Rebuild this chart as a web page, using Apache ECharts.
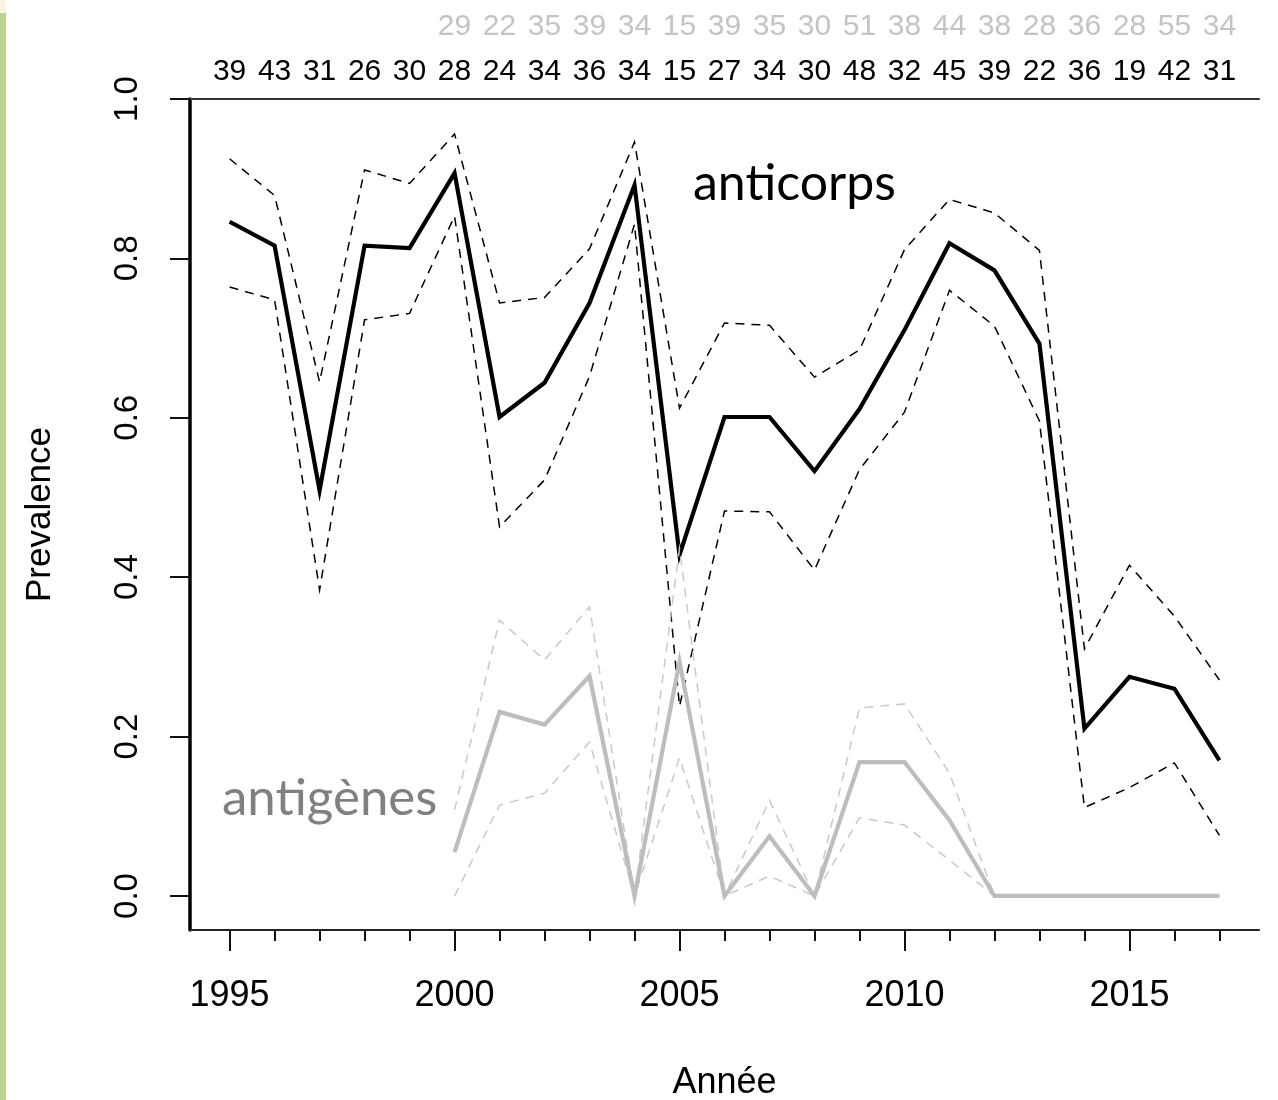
<!DOCTYPE html>
<html>
<head>
<meta charset="utf-8">
<script src="https://cdn.jsdelivr.net/npm/echarts@6/dist/echarts.min.js"></script>
<style>
  html, body { margin: 0; padding: 0; background: #fff; }
  #chart { width: 1278px; height: 1100px; }
</style>
</head>
<body>
<div id="chart"></div>
<script>
// années
const years = [1995, 1996, 1997, 1998, 1999, 2000, 2001, 2002, 2003, 2004, 2005, 2006,
  2007, 2008, 2009, 2010, 2011, 2012, 2013, 2014, 2015, 2016, 2017];
const majorYears = [1995, 2000, 2005, 2010, 2015];
const yTicks = [0, 0.2, 0.4, 0.6, 0.8, 1.0];

// effectifs (ligne noire = anticorps, ligne grise = antigènes)
const nAb = [39, 43, 31, 26, 30, 28, 24, 34, 36, 34, 15, 27, 34, 30, 48, 32, 45, 39, 22, 36, 19, 42, 31];
const agYears = [2000, 2001, 2002, 2003, 2004, 2005, 2006, 2007, 2008, 2009, 2010, 2011,
  2012, 2013, 2014, 2015, 2016, 2017];
const nAg = [29, 22, 35, 39, 34, 15, 39, 35, 30, 51, 38, 44, 38, 28, 36, 28, 55, 34];

// prévalence anticorps + IC
const abMean = [0.846, 0.816, 0.509, 0.816, 0.813, 0.907, 0.601, 0.644, 0.744, 0.892, 0.428, 0.601,
  0.601, 0.533, 0.611, 0.710, 0.819, 0.785, 0.693, 0.210, 0.275, 0.260, 0.170];
const abHigh = [0.925, 0.879, 0.645, 0.911, 0.894, 0.956, 0.744, 0.751, 0.812, 0.946, 0.612, 0.719,
  0.716, 0.651, 0.685, 0.811, 0.874, 0.857, 0.810, 0.310, 0.415, 0.351, 0.271];
const abLow = [0.764, 0.748, 0.384, 0.723, 0.731, 0.853, 0.463, 0.522, 0.652, 0.843, 0.238, 0.483,
  0.482, 0.409, 0.535, 0.607, 0.760, 0.715, 0.596, 0.111, 0.136, 0.167, 0.076];

// prévalence antigènes + IC (à partir de 2000)
const agMean = [0.055, 0.231, 0.215, 0.276, 0, 0.294, 0, 0.075, 0, 0.168, 0.168, 0.095, 0, 0, 0, 0, 0, 0];
const agHigh = [0.108, 0.346, 0.296, 0.363, 0, 0.436, 0, 0.120, 0, 0.236, 0.241, 0.154, 0, 0, 0, 0, 0, 0];
const agLow = [0, 0.114, 0.129, 0.193, 0, 0.173, 0, 0.025, 0, 0.098, 0.089, 0.045, 0, 0, 0, 0, 0, 0];

const FONT = "'Liberation Sans', Arial, sans-serif";
const X_MIN = 1994.12, X_MAX = 2017.88;
const Y_MIN = -0.0427, Y_MAX = 1;

function pairs(xs, ys) {
  return xs.map((x, i) => [x, ys[i]]);
}

function lineSeries(name, xs, ys, color, width, dashed) {
  return {
    name: name,
    type: 'line',
    data: pairs(xs, ys),
    symbol: 'none',
    silent: true,
    animation: false,
    lineStyle: {
      color: color,
      width: width,
      type: dashed ? [9, 7] : 'solid',
      join: 'miter'
    }
  };
}

const chart = echarts.init(document.getElementById('chart'));

const option = {
  backgroundColor: '#fff',
  animation: false,
  grid: { left: 190, right: 19, top: 99, bottom: 170, outerBoundsMode: 'none' },
  xAxis: [
    {
      // axe du bas : grandes graduations + libellés
      type: 'value', position: 'bottom', min: X_MIN, max: X_MAX,
      axisLine: { show: true, onZero: false, lineStyle: { color: '#222', width: 2 } },
      axisTick: { show: true, customValues: majorYears, length: 21, lineStyle: { color: '#111', width: 2 } },
      axisLabel: {
        customValues: majorYears, fontFamily: FONT, fontSize: 36, color: '#000', margin: 48,
        formatter: v => String(Math.round(v))
      },
      splitLine: { show: false },
      name: 'Année', nameLocation: 'middle', nameGap: 135,
      nameTextStyle: { fontFamily: FONT, fontSize: 36, color: '#000' }
    },
    {
      // petites graduations annuelles
      type: 'value', position: 'bottom', min: X_MIN, max: X_MAX,
      axisLine: { show: false, onZero: false },
      axisTick: { show: true, customValues: years, length: 11, lineStyle: { color: '#111', width: 2 } },
      axisLabel: { show: false },
      splitLine: { show: false }
    },
    {
      // axe du haut : effectifs anticorps
      type: 'value', position: 'top', min: X_MIN, max: X_MAX,
      axisLine: { show: true, onZero: false, lineStyle: { color: '#333', width: 2 } },
      axisTick: { show: false },
      axisLabel: {
        customValues: years, fontFamily: FONT, fontSize: 30, color: '#000', margin: 12,
        formatter: v => String(nAb[years.indexOf(Math.round(v))])
      },
      splitLine: { show: false }
    },
    {
      // effectifs antigènes
      type: 'value', position: 'top', min: X_MIN, max: X_MAX,
      axisLine: { show: false, onZero: false },
      axisTick: { show: false },
      axisLabel: {
        customValues: agYears, fontFamily: FONT, fontSize: 30, color: '#c4c4c4', margin: 57,
        formatter: v => String(nAg[agYears.indexOf(Math.round(v))])
      },
      splitLine: { show: false }
    }
  ],
  yAxis: {
    type: 'value', min: Y_MIN, max: Y_MAX,
    axisLine: { show: true, onZero: false, lineStyle: { color: '#000', width: 3.5 } },
    axisTick: { show: true, customValues: yTicks, length: 20, lineStyle: { color: '#111', width: 2 } },
    axisLabel: {
      customValues: yTicks, rotate: 90, fontFamily: FONT, fontSize: 33, color: '#000', margin: 46,
      formatter: v => v.toFixed(1)
    },
    splitLine: { show: false },
    name: 'Prevalence', nameLocation: 'middle', nameGap: 132, nameRotate: 90,
    nameTextStyle: { fontFamily: FONT, fontSize: 35, color: '#000' }
  },
  series: [
    lineSeries('anticorps IC haut', years, abHigh, '#000', 1.5, true),
    lineSeries('anticorps IC bas', years, abLow, '#000', 1.5, true),
    lineSeries('anticorps', years, abMean, '#000', 4.2, false),
    lineSeries('antigènes IC haut', agYears, agHigh, '#c9c9c9', 1.5, true),
    lineSeries('antigènes IC bas', agYears, agLow, '#c9c9c9', 1.5, true),
    lineSeries('antigènes', agYears, agMean, '#bdbdbd', 4.2, false)
  ],
  graphic: [
    { type: 'rect', shape: { x: 0, y: 13, width: 6, height: 1087 }, style: { fill: '#b9d48f' }, silent: true },
    { type: 'rect', shape: { x: 0, y: 0, width: 6, height: 13 }, style: { fill: '#fcf3e2' }, silent: true },
    {
      type: 'text', left: 693, top: 159, silent: true,
      style: { text: 'anticorps', fill: '#000', font: "50px Lato, 'Open Sans', sans-serif" }
    },
    {
      type: 'text', left: 222, top: 773, silent: true,
      style: { text: 'antigènes', fill: '#808080', font: "51px Lato, 'Open Sans', sans-serif" }
    }
  ]
};

chart.setOption(option);
</script>
</body>
</html>
